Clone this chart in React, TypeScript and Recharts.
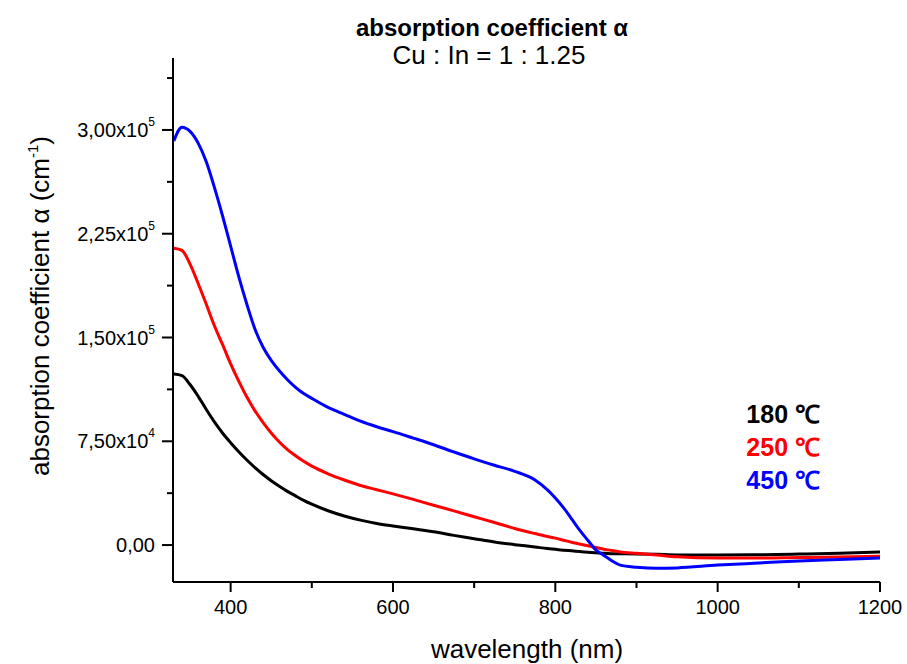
import React from "react";
import { LineChart, Line, XAxis, YAxis } from "recharts";

// wavelength in nm
const wavelengths = [
  330, 340, 350, 360, 370, 380, 390, 400, 410, 420, 430, 440, 450, 460, 470,
  480, 490, 500, 520, 540, 560, 580, 600, 625, 650, 675, 700, 725, 750, 775,
  790, 800, 810, 820, 830, 840, 850, 860, 870, 880, 900, 925, 950, 1000, 1050,
  1100, 1150, 1200,
];

// absorption coefficient (cm^-1)
const alpha180 = [
  123600, 122500, 116000, 107500, 98000, 89000, 81000, 74000, 67500, 61500,
  56000, 51000, 46500, 42500, 38800, 35500, 32300, 29500, 24800, 21000, 18000,
  15600, 13800, 11800, 9600, 7000, 4600, 2200, 300, -1400, -2500, -3100, -3700,
  -4200, -4700, -5200, -5600, -6000, -6200, -6300, -6400, -6700, -7100, -7200,
  -7000, -6500, -6000, -5100,
];

const alpha250 = [
  214500, 213000, 203000, 189000, 174000, 158500, 145000, 131000, 118500,
  107000, 97000, 88500, 81000, 74500, 69000, 64500, 60500, 57000, 51500, 47000,
  43000, 40000, 37000, 33000, 28800, 24700, 20500, 16300, 12000, 8300, 6200,
  5000, 3500, 2000, 800, -500, -1800, -3000, -4000, -5000, -6000, -7200, -8500,
  -9400, -9400, -9000, -8700, -8000,
];

const alpha450 = [
  292000, 302000, 299000, 290500, 277000, 258500, 238000, 216000, 194000,
  174000, 156000, 143000, 133500, 126000, 119500, 114000, 109500, 106000, 99500,
  94500, 89500, 85500, 82000, 77300, 72500, 67300, 62300, 57700, 53300, 47000,
  40000, 34000, 27000, 19000, 10800, 3500, -3500, -7500, -11500, -14500,
  -16000, -16800, -16500, -14500, -13000, -11500, -10500, -9400,
];

const xTicks = [400, 500, 600, 700, 800, 900, 1000, 1100, 1200];
const yTicks = [
  0, 37500, 75000, 112500, 150000, 187500, 225000, 262500, 300000, 337500,
];

const legendItems = [
  { label: "180 \u2103", color: "#000000" },
  { label: "250 \u2103", color: "#ff0000" },
  { label: "450 \u2103", color: "#0000ff" },
];

const data = wavelengths.map((wl, i) => ({
  wl,
  a180: alpha180[i],
  a250: alpha250[i],
  a450: alpha450[i],
}));

const font = "'Liberation Sans', Arial, Helvetica, sans-serif";

const YTick = (props: any) => {
  const { x, y, payload } = props;
  const v = payload.value;
  const major = v % 75000 === 0;
  let mant = "0,00";
  let exp = "";
  if (v !== 0) {
    const e = Math.floor(Math.log10(v));
    mant = (v / Math.pow(10, e)).toFixed(2).replace(".", ",") + "x10";
    exp = String(e);
  }
  return (
    <g>
      <line x1={x} x2={x - (major ? 11 : 6)} y1={y} y2={y} stroke="#000" strokeWidth={2} />
      {major && (
        <text x={x - 18} y={y + 7} textAnchor="end" fontFamily={font} fontSize={20} fill="#000">
          {mant}
          {exp && (
            <tspan dy={-11} fontSize={12}>
              {exp}
            </tspan>
          )}
        </text>
      )}
    </g>
  );
};

const XTick = (props: any) => {
  const { x, y, payload } = props;
  const major = payload.value % 200 === 0;
  return (
    <g>
      <line x1={x} x2={x} y1={y} y2={y + (major ? 10 : 6)} stroke="#000" strokeWidth={2} />
      {major && (
        <text x={x} y={y + 32} textAnchor="middle" fontFamily={font} fontSize={20} fill="#000">
          {payload.value}
        </text>
      )}
    </g>
  );
};

export default function App() {
  return (
    <div style={{ position: "absolute", left: 0, top: 0, width: 907, height: 664, background: "#fff" }}>
      <LineChart
        width={907}
        height={664}
        data={data}
        margin={{ top: 58, right: 27, bottom: 42, left: 73 }}
      >
        <XAxis
          type="number"
          dataKey="wl"
          domain={[329, 1200]}
          ticks={xTicks}
          interval={0}
          height={40}
          tickSize={0}
          tickMargin={0}
          tickLine={false}
          axisLine={{ stroke: "#000", strokeWidth: 2 }}
          tick={<XTick />}
          allowDataOverflow
        />
        <YAxis
          type="number"
          domain={[-26700, 352000]}
          ticks={yTicks}
          interval={0}
          width={100}
          tickSize={0}
          tickMargin={0}
          tickLine={false}
          axisLine={{ stroke: "#000", strokeWidth: 2 }}
          tick={<YTick />}
          allowDataOverflow
        />
        <Line type="monotone" dataKey="a180" stroke="#000000" strokeWidth={3} dot={false} isAnimationActive={false} />
        <Line type="monotone" dataKey="a250" stroke="#ff0000" strokeWidth={3} dot={false} isAnimationActive={false} />
        <Line type="monotone" dataKey="a450" stroke="#0000ff" strokeWidth={3} dot={false} isAnimationActive={false} />
      </LineChart>
      <svg
        width={907}
        height={664}
        style={{ position: "absolute", left: 0, top: 0, pointerEvents: "none" }}
      >
        <text x={492} y={36} textAnchor="middle" fontFamily={font} fontSize={24} fontWeight="bold" fill="#000">
          absorption coefficient α
        </text>
        <text x={489} y={64} textAnchor="middle" fontFamily={font} fontSize={26} fill="#000">
          Cu : In = 1 : 1.25
        </text>
        <text x={527} y={658} textAnchor="middle" fontFamily={font} fontSize={26} fill="#000">
          wavelength (nm)
        </text>
        <text
          transform="translate(49, 306) rotate(-90)"
          textAnchor="middle"
          fontFamily={font}
          fontSize={26}
          fill="#000"
        >
          absorption coefficient α (cm
          <tspan dy={-11} fontSize={15}>-1</tspan>
          <tspan dy={11}>)</tspan>
        </text>
        {legendItems.map((item, i) => (
          <text
            key={item.label}
            x={820}
            y={423 + i * 33}
            textAnchor="end"
            fontFamily={font}
            fontSize={25}
            fontWeight="bold"
            fill={item.color}
          >
            {item.label}
          </text>
        ))}
      </svg>
    </div>
  );
}
